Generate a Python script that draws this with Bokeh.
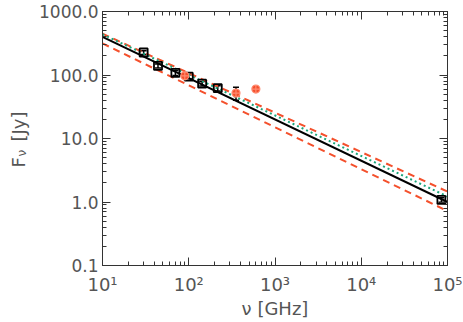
import numpy as np
from bokeh.plotting import figure
from bokeh.layouts import row
from bokeh.models import (LogAxis, FixedTicker, CustomJSTickFormatter, Whisker, TeeHead,
                          ColumnDataSource, Label, Range1d)
from bokeh.embed import file_html
from bokeh.resources import INLINE

# ---- data ----
nu_black = [30, 44, 70, 100, 143, 217, 85000]
f_black = [226, 139, 108, 94, 73, 62, 1.08]
e_black = [16, 10, 10, 7, 6, 6, 0.09]

nu_red = [90, 353, 600]
f_red = [97, 52, 60]
e_red = [0, 12, 0]

nu_fit = [10, 100000]
f_fit_black = [398, 1.0]
f_fit_green = [437, 1.22]
f_fit_up = [448, 1.46]
f_fit_lo = [314, 0.72]

xticks = [10, 100, 1000, 10000, 100000]
xtick_labels = ["10\u00b9", "10\u00b2", "10\u00b3", "10\u2074", "10\u2075"]
yticks = [0.1, 1, 10, 100, 1000]
ytick_labels = ["0.1", "1.0", "10.0", "100.0", "1000.0"]

FONT = "DejaVu Sans"
TXT = "#555555"
AX = "#333333"
RED = "#f4502c"
GREEN = "#1aa57a"

yr = Range1d(0.1, 1000)

p = figure(frame_width=345, frame_height=254, x_axis_type="log", y_axis_type="log",
           x_range=Range1d(10, 1e5), y_range=yr,
           output_backend="svg", toolbar_location=None,
           min_border_left=72, min_border_right=16, min_border_top=11, min_border_bottom=57)
p.grid.visible = False
p.outline_line_color = AX
p.background_fill_color = "white"
p.border_fill_color = "white"

minor_x = [m * 10 ** k for k in range(1, 5) for m in range(2, 10)]
minor_y = [m * 10 ** k for k in range(-1, 3) for m in range(2, 10)]

JS = "const i = t.findIndex(v => Math.abs(Math.log10(v) - Math.log10(tick)) < 1e-6); return i >= 0 ? l[i] : '';"
xfmt = CustomJSTickFormatter(args=dict(t=xticks, l=xtick_labels), code=JS)
yfmt = CustomJSTickFormatter(args=dict(t=yticks, l=ytick_labels), code=JS)

def style(ax, labels=True):
    ax.axis_line_color = AX
    ax.major_tick_line_color = AX
    ax.minor_tick_line_color = AX
    ax.major_tick_in = 8
    ax.major_tick_out = 0
    ax.minor_tick_in = 4
    ax.minor_tick_out = 0
    ax.major_label_text_font = FONT
    ax.major_label_text_color = TXT
    ax.major_label_text_font_size = "18px"
    ax.axis_label_text_font = FONT
    ax.axis_label_text_color = TXT
    ax.axis_label_text_font_style = "normal"
    ax.axis_label_text_font_size = "18px"
    if not labels:
        ax.formatter = CustomJSTickFormatter(code="return '';")
        ax.major_label_text_font_size = "1px"
        ax.major_label_standoff = 0

xa = p.xaxis[0]
xa.ticker = FixedTicker(ticks=xticks, minor_ticks=minor_x)
xa.formatter = xfmt
style(xa)
xa.major_label_standoff = 8
xa.axis_label = "\u03bd [GHz]"
xa.axis_label_standoff = 0

ya = p.yaxis[0]
ya.ticker = FixedTicker(ticks=yticks, minor_ticks=minor_y)
ya.formatter = yfmt
style(ya)
ya.major_label_text_font_size = "17px"
ya.major_label_standoff = 4
ya.major_label_orientation = "horizontal"

top = LogAxis(ticker=FixedTicker(ticks=xticks, minor_ticks=minor_x))
style(top, False)
p.add_layout(top, "above")
right = LogAxis(ticker=FixedTicker(ticks=yticks, minor_ticks=minor_y))
style(right, False)
p.add_layout(right, "right")

# fits
p.line(nu_fit, f_fit_up, line_color=RED, line_width=2, line_dash="7 5")
p.line(nu_fit, f_fit_lo, line_color=RED, line_width=2, line_dash="7 5")
p.line(nu_fit, f_fit_green, line_color=GREEN, line_width=2, line_dash="2 3")
p.line(nu_fit, f_fit_black, line_color="black", line_width=2)

# black data
fb = np.array(f_black); eb = np.array(e_black)
src_b = ColumnDataSource(dict(x=nu_black, y=f_black, lo=list(fb - eb), hi=list(fb + eb)))
p.add_layout(Whisker(source=src_b, base="x", lower="lo", upper="hi", line_color="black", line_width=1.5,
                     upper_head=TeeHead(size=6, line_color="black", line_width=1.5),
                     lower_head=TeeHead(size=6, line_color="black", line_width=1.5)))
p.scatter("x", "y", source=src_b, marker="square", size=8, fill_color=None,
          line_color="black", line_width=1.8)

# red data
fr = np.array(f_red); er = np.array(e_red)
src_r = ColumnDataSource(dict(x=nu_red, y=f_red, lo=list(fr - er), hi=list(fr + er)))
p.add_layout(Whisker(source=src_r, base="x", lower="lo", upper="hi", line_color="black", line_width=1.5,
                     upper_head=TeeHead(size=6, line_color="black", line_width=1.5),
                     lower_head=TeeHead(size=6, line_color="black", line_width=1.5)))
p.scatter("x", "y", source=src_r, marker="circle_cross", size=8, fill_color=RED,
          line_color="#ff8a70", line_width=1.2)

# ---- left strip holding the y title (F with subscript nu) ----
lp = figure(frame_width=30, frame_height=254, y_axis_type="log",
            x_range=Range1d(0, 30), y_range=yr,
            x_axis_location=None, y_axis_location=None,
            output_backend="svg", toolbar_location=None,
            min_border_left=0, min_border_right=0, min_border_top=11, min_border_bottom=57)
lp.outline_line_color = None
lp.grid.visible = False
lp.border_fill_color = "white"

lp.add_layout(Label(x=18, y=98, x_units="screen", y_units="screen", text="F",
                    angle=np.pi / 2, text_font=FONT, text_color=TXT, text_font_size="18px",
                    text_align="left", text_baseline="alphabetic"))
lp.add_layout(Label(x=21, y=109, x_units="screen", y_units="screen", text="\u03bd",
                    angle=np.pi / 2, text_font=FONT, text_color=TXT, text_font_size="12px",
                    text_align="left", text_baseline="alphabetic"))
lp.add_layout(Label(x=18, y=124, x_units="screen", y_units="screen", text="[Jy]",
                    angle=np.pi / 2, text_font=FONT, text_color=TXT, text_font_size="18px",
                    text_align="left", text_baseline="alphabetic"))

layout = row(lp, p, spacing=0)
open("out.html", "w").write(file_html(layout, INLINE))
